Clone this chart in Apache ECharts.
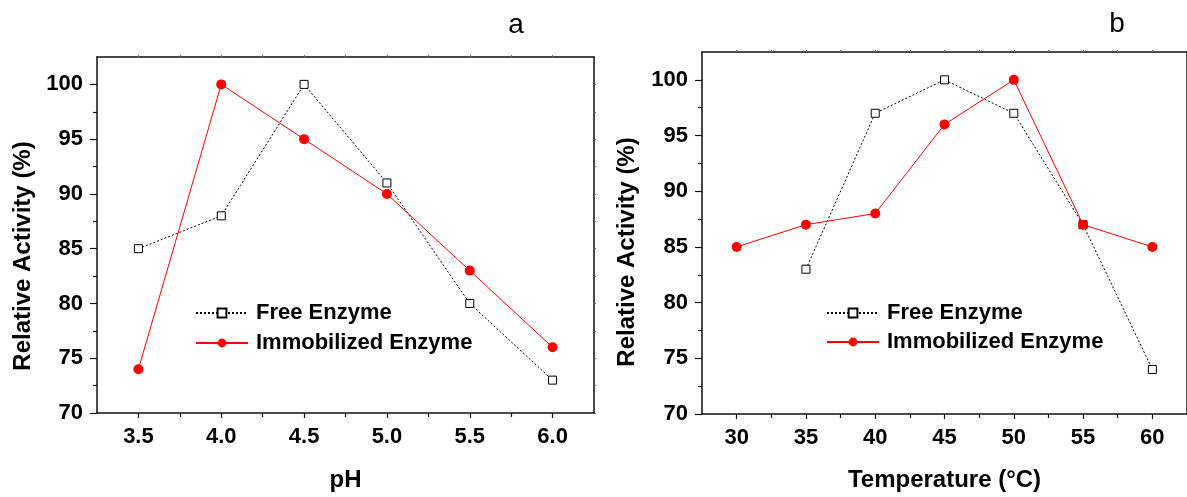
<!DOCTYPE html>
<html>
<head>
<meta charset="utf-8">
<script src="https://cdn.jsdelivr.net/npm/echarts@6/dist/echarts.min.js"></script>
<style>
  html, body { margin: 0; padding: 0; background: #fff; }
  #main { width: 1187px; height: 497px; }
</style>
</head>
<body>
<div id="main"></div>
<script>
// data
const phLevels = [3.5, 4.0, 4.5, 5.0, 5.5, 6.0];
const freePh = [85, 88, 100, 91, 80, 73];
const immobilizedPh = [74, 100, 95, 90, 83, 76];

const temperatures = [30, 35, 40, 45, 50, 55, 60];
const freeTemp = [null, 83, 97, 100, 97, 87, 74];
const immobilizedTemp = [85, 87, 88, 96, 100, 87, 85];

// tick labels
const activityTicks = [70, 75, 80, 85, 90, 95, 100];
const activityMinor = [72.5, 77.5, 82.5, 87.5, 92.5, 97.5];
const phTicks = [3.5, 4.0, 4.5, 5.0, 5.5, 6.0];
const phMinor = [3.75, 4.25, 4.75, 5.25, 5.75];
const tempTicks = [30, 35, 40, 45, 50, 55, 60];
const tempMinor = [32.5, 37.5, 42.5, 47.5, 52.5, 57.5];

const seriesNames = ['Free Enzyme', 'Immobilized Enzyme'];

const FONT = '"Liberation Sans", Arial, sans-serif';
const lineCol = '#111';

const chart = echarts.init(document.getElementById('main'));

// axes for one panel: bottom (major+labels), bottom minor, top frame; left major, left minor, right frame
function panelAxes(grid, xr, xTicks, xMinor, xFmt, xName, xGap) {
  const frame = { show: true, lineStyle: { color: lineCol, width: 1.5 } };
  const lab = { fontFamily: FONT, fontSize: 22, fontWeight: 'bold', color: '#000' };
  const x = [
    {
      gridIndex: grid, type: 'value', position: 'bottom', min: xr[0], max: xr[1],
      axisLine: frame, splitLine: { show: false },
      axisTick: { customValues: xTicks, length: 5, lineStyle: { color: lineCol, width: 1.2 } },
      axisLabel: Object.assign({ customValues: xTicks, margin: 13, formatter: xFmt }, lab),
      name: xName, nameLocation: 'middle', nameGap: xGap,
      nameTextStyle: { fontFamily: FONT, fontSize: 24, fontWeight: 'bold', color: '#000' }
    },
    {
      gridIndex: grid, type: 'value', position: 'bottom', min: xr[0], max: xr[1],
      axisLine: { show: false }, splitLine: { show: false }, axisLabel: { show: false },
      axisTick: { customValues: xMinor, length: 4, lineStyle: { color: lineCol, width: 1.2 } }
    },
    {
      gridIndex: grid, type: 'value', position: 'top', min: xr[0], max: xr[1],
      axisLine: frame, splitLine: { show: false }, axisLabel: { show: false },
      axisTick: { customValues: xTicks.concat(xMinor), length: 2, lineStyle: { color: '#666' } }
    }
  ];
  const y = [
    {
      gridIndex: grid, type: 'value', position: 'left', min: 70, max: 102.5,
      axisLine: frame, splitLine: { show: false },
      axisTick: { customValues: activityTicks, length: 7, lineStyle: { color: lineCol, width: 1.2 } },
      axisLabel: Object.assign({ customValues: activityTicks, margin: 14 }, lab)
    },
    {
      gridIndex: grid, type: 'value', position: 'left', min: 70, max: 102.5,
      axisLine: { show: false }, splitLine: { show: false }, axisLabel: { show: false },
      axisTick: { customValues: activityMinor, length: 4, lineStyle: { color: lineCol, width: 1.2 } }
    },
    {
      gridIndex: grid, type: 'value', position: 'right', min: 70, max: 102.5,
      axisLine: frame, splitLine: { show: false }, axisLabel: { show: false },
      axisTick: { customValues: activityTicks.concat(activityMinor), length: 2, lineStyle: { color: '#666' } }
    }
  ];
  return { x, y };
}

const left = panelAxes(0, [3.25, 6.25], phTicks, phMinor, v => v.toFixed(1), 'pH', 55);
const right = panelAxes(1, [27.5, 62.5], tempTicks, tempMinor, v => String(v), 'Temperature (°C)', 54);

function pairs(xs, ys) {
  return xs.map((v, i) => [v, ys[i]]);
}

function freeSeries(xi, yi, data) {
  return {
    name: seriesNames[0], type: 'line', xAxisIndex: xi, yAxisIndex: yi, data,
    symbol: 'rect', symbolSize: 8,
    itemStyle: { color: '#fff', borderColor: '#000', borderWidth: 1 },
    lineStyle: { color: '#000', width: 1, type: [2, 2] },
    emphasis: { disabled: true }
  };
}
function immobilizedSeries(xi, yi, data) {
  return {
    name: seriesNames[1], type: 'line', xAxisIndex: xi, yAxisIndex: yi, data,
    symbol: 'circle', symbolSize: 10,
    itemStyle: { color: '#ff0000' },
    lineStyle: { color: '#ff0000', width: 1 },
    emphasis: { disabled: true }
  };
}

const legendText = { fontFamily: FONT, fontSize: 22, fontWeight: 'bold', color: '#000', padding: [0, 0, 0, 3] };

const option = {
  animation: false,
  backgroundColor: '#fff',
  grid: [
    { left: 97, top: 57, width: 497, height: 365 },
    { left: 702, top: 52, width: 499, height: 366 }
  ],
  xAxis: left.x.concat(right.x),
  yAxis: left.y.concat(right.y),
  legend: [
    {
      left: 195, top: 302, padding: 0, orient: 'vertical', itemWidth: 52, itemHeight: 11, itemGap: 8,
      textStyle: legendText, data: seriesNames, selectedMode: false
    },
    {
      left: 826, top: 302, padding: 0, orient: 'vertical', itemWidth: 52, itemHeight: 11, itemGap: 7,
      textStyle: legendText, data: seriesNames, selectedMode: false
    }
  ],
  graphic: [
    { type: 'text', x: 23, y: 256, rotation: Math.PI / 2,
      style: { text: 'Relative Activity (%)', font: 'bold 24px ' + FONT, fill: '#000', align: 'center', verticalAlign: 'middle' } },
    { type: 'text', x: 627, y: 252, rotation: Math.PI / 2,
      style: { text: 'Relative Activity (%)', font: 'bold 24px ' + FONT, fill: '#000', align: 'center', verticalAlign: 'middle' } },
    { type: 'text', x: 516, y: 25,
      style: { text: 'a', font: '28px ' + FONT, fill: '#000', align: 'center', verticalAlign: 'middle' } },
    { type: 'text', x: 1117, y: 24,
      style: { text: 'b', font: '28px ' + FONT, fill: '#000', align: 'center', verticalAlign: 'middle' } }
  ],
  series: [
    freeSeries(0, 0, pairs(phLevels, freePh)),
    immobilizedSeries(0, 0, pairs(phLevels, immobilizedPh)),
    freeSeries(3, 3, pairs(temperatures, freeTemp)),
    immobilizedSeries(3, 3, pairs(temperatures, immobilizedTemp))
  ]
};

chart.setOption(option);
</script>
</body>
</html>
